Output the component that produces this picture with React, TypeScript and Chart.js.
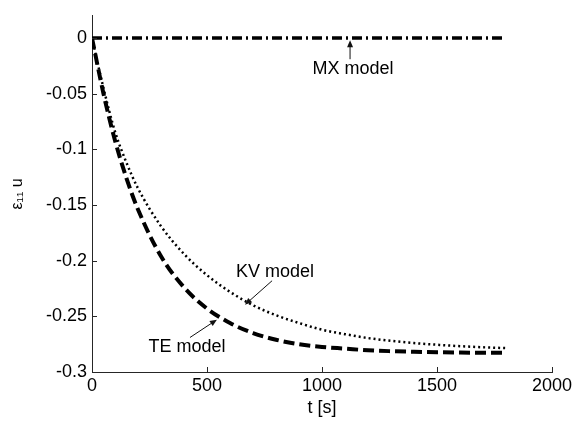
import React, { useEffect, useRef } from "react";
import { Chart, registerables } from "chart.js";

Chart.register(...registerables);

// ---- data ----
const tValues = [0, 50, 100, 150, 200, 300, 400, 500, 600, 700, 800, 900, 1000, 1100, 1200, 1300, 1400, 1500, 1600, 1700, 1800];
const mxValues = [0, 0, 0, 0, 0, 0, 0, 0, 0, 0, 0, 0, 0, 0, 0, 0, 0, 0, 0, 0, 0];
const kvValues = [0, -0.045, -0.084, -0.112, -0.135, -0.169, -0.194, -0.213, -0.228, -0.24, -0.249, -0.256, -0.262, -0.266, -0.2695, -0.272, -0.274, -0.2755, -0.2768, -0.2778, -0.2785];
const teValues = [0, -0.05, -0.092, -0.126, -0.154, -0.196, -0.224, -0.243, -0.256, -0.265, -0.271, -0.275, -0.2775, -0.279, -0.2805, -0.2813, -0.2818, -0.2822, -0.2825, -0.2827, -0.2828];

const xTicks = [0, 500, 1000, 1500, 2000];
const xTickLabels = ["0", "500", "1000", "1500", "2000"];
const yTicks = [0, -0.05, -0.1, -0.15, -0.2, -0.25, -0.3];
const yTickLabels = ["0", "-0.05", "-0.1", "-0.15", "-0.2", "-0.25", "-0.3"];

const xTitle = "t [s]";
const yTitle = "ε₁₁ u";

// annotations (data coordinates)
const annTexts = ["MX model", "KV model", "TE model"];
const annTextT = [1135, 796, 413];
const annTextV = [-0.028, -0.21, -0.2775];
const arrowFromT = [1122, 783, 426];
const arrowFromV = [-0.019, -0.218, -0.269];
const arrowToT = [1122, 665, 543];
const arrowToV = [-0.002, -0.2396, -0.253];

const FONT = "'Liberation Sans', Arial, Helvetica, sans-serif";
const AXIS = "#262626";

const overlay = {
  id: "overlay",
  afterDraw(chart: any) {
    const ctx = chart.ctx as CanvasRenderingContext2D;
    const xs = chart.scales.x;
    const ys = chart.scales.y;
    const { left, bottom } = chart.chartArea;
    ctx.save();
    ctx.strokeStyle = AXIS;
    ctx.lineWidth = 1;
    xTicks.forEach((v) => {
      const px = Math.round(xs.getPixelForValue(v)) + 0.5;
      ctx.beginPath();
      ctx.moveTo(px, bottom);
      ctx.lineTo(px, bottom - 5);
      ctx.stroke();
    });
    yTicks.forEach((v) => {
      const py = Math.round(ys.getPixelForValue(v)) + 0.5;
      ctx.beginPath();
      ctx.moveTo(left, py);
      ctx.lineTo(left + 5, py);
      ctx.stroke();
    });
    // arrows
    ctx.strokeStyle = "#111";
    ctx.fillStyle = "#111";
    for (let i = 0; i < annTexts.length; i++) {
      const x1 = xs.getPixelForValue(arrowFromT[i]);
      const y1 = ys.getPixelForValue(arrowFromV[i]);
      const x2 = xs.getPixelForValue(arrowToT[i]);
      const y2 = ys.getPixelForValue(arrowToV[i]);
      const ang = Math.atan2(y2 - y1, x2 - x1);
      const hl = 7;
      const hw = 3;
      ctx.beginPath();
      ctx.moveTo(x1, y1);
      ctx.lineTo(x2 - Math.cos(ang) * hl * 0.8, y2 - Math.sin(ang) * hl * 0.8);
      ctx.stroke();
      ctx.beginPath();
      ctx.moveTo(x2, y2);
      ctx.lineTo(x2 - Math.cos(ang) * hl - Math.sin(ang) * hw, y2 - Math.sin(ang) * hl + Math.cos(ang) * hw);
      ctx.lineTo(x2 - Math.cos(ang) * hl + Math.sin(ang) * hw, y2 - Math.sin(ang) * hl - Math.cos(ang) * hw);
      ctx.closePath();
      ctx.fill();
    }
    // texts
    ctx.fillStyle = "#000";
    ctx.font = `18px ${FONT}`;
    ctx.textAlign = "center";
    ctx.textBaseline = "middle";
    for (let i = 0; i < annTexts.length; i++) {
      ctx.fillText(annTexts[i], xs.getPixelForValue(annTextT[i]), ys.getPixelForValue(annTextV[i]));
    }
    ctx.restore();
  },
};

export default function App() {
  const ref = useRef<HTMLCanvasElement | null>(null);
  useEffect(() => {
    if (!ref.current) return;
    const mk = (vals: number[]) => tValues.map((t, i) => ({ x: t, y: vals[i] }));
    const chart = new Chart(ref.current, {
      type: "line",
      data: {
        datasets: [
          {
            label: "MX model",
            data: mk(mxValues),
            borderColor: "#000",
            borderWidth: 3.5,
            borderDash: [10, 4, 2, 4],
            pointRadius: 0,
          },
          {
            label: "KV model",
            data: mk(kvValues),
            borderColor: "#000",
            borderWidth: 2.5,
            borderDash: [2, 3],
            pointRadius: 0,
            cubicInterpolationMode: "monotone",
          },
          {
            label: "TE model",
            data: mk(teValues),
            borderColor: "#000",
            borderWidth: 4,
            borderDash: [11, 5],
            pointRadius: 0,
            cubicInterpolationMode: "monotone",
          },
        ],
      },
      options: {
        responsive: false,
        animation: false,
        layout: { padding: { top: 15, right: 31, left: 0, bottom: 0 } },
        plugins: { legend: { display: false }, tooltip: { enabled: false } },
        scales: {
          x: {
            type: "linear",
            min: 0,
            max: 2000,
            grid: { display: false, drawTicks: false },
            border: { display: true, color: AXIS, width: 1 },
            afterBuildTicks: (s: any) => {
              s.ticks = xTicks.map((v) => ({ value: v }));
            },
            afterFit: (s: any) => {
              s.height = 58;
            },
            ticks: {
              padding: 3,
              color: "#000",
              font: { family: FONT, size: 18 },
              maxRotation: 0,
              autoSkip: false,
              callback: (v: any) => {
                const i = xTicks.indexOf(Number(v));
                return i >= 0 ? xTickLabels[i] : "";
              },
            },
            title: {
              display: true,
              text: xTitle,
              color: "#000",
              font: { family: FONT, size: 18 },
              padding: { top: 0, bottom: 11 },
            },
          },
          y: {
            type: "linear",
            min: -0.3,
            max: 0.02,
            grid: { display: false, drawTicks: false },
            border: { display: true, color: AXIS, width: 1 },
            afterBuildTicks: (s: any) => {
              s.ticks = yTicks.map((v) => ({ value: v }));
            },
            afterFit: (s: any) => {
              s.width = 92;
            },
            ticks: {
              padding: 5,
              color: "#000",
              font: { family: FONT, size: 18 },
              autoSkip: false,
              callback: (v: any) => {
                const i = yTicks.findIndex((t) => Math.abs(t - Number(v)) < 1e-9);
                return i >= 0 ? yTickLabels[i] : "";
              },
            },
            title: {
              display: true,
              text: yTitle,
              color: "#000",
              font: { family: FONT, size: 16 },
              padding: { top: 8, bottom: 0 },
            },
          },
        },
      },
      plugins: [overlay],
    });
    return () => chart.destroy();
  }, []);
  return (
    <div style={{ position: "fixed", left: 0, top: 0, width: 583, height: 430, background: "#fff" }}>
      <canvas ref={ref} width={583} height={430} />
    </div>
  );
}
